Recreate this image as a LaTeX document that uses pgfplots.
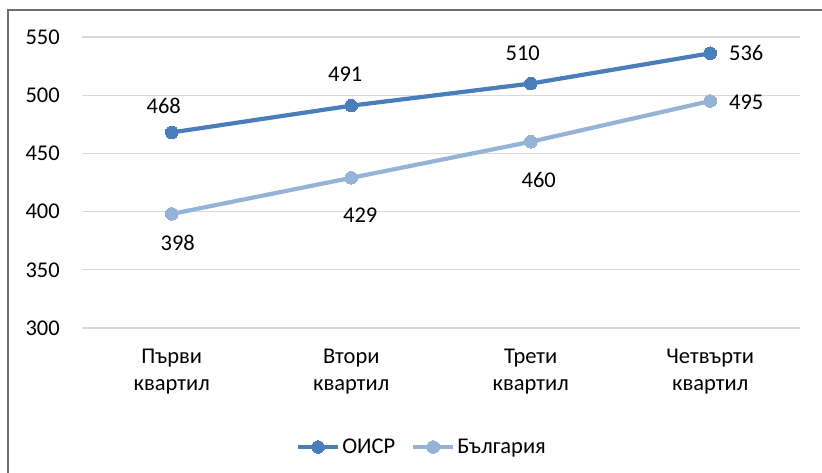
\documentclass[border=0pt]{standalone}
\usepackage{pgfplots}
\pgfplotsset{compat=1.18}
\usepackage{pgfplotstable}
\usepackage{fontspec}
\setmainfont{Carlito}

\definecolor{oecd}{RGB}{74,126,187}
\definecolor{bg}{RGB}{149,179,215}
\definecolor{gridgray}{RGB}{217,217,217}
\definecolor{framegray}{RGB}{110,110,110}

% quartile, score, label offsets (dx, dy)
\pgfplotstableread{
x y dx dy
0 468 -8 27
1 491 -6 31
2 510 -8 30
3 536 36 0
}\oecdtable
\pgfplotstableread{
x y dx dy
0 398 6 -29
1 429 9 -37
2 460 8 -38
3 495 36 -1
}\bgtable

\newcommand{\lblfont}{\fontsize{22.5}{27}\selectfont}

\begin{document}
\begin{tikzpicture}[x=1pt,y=1pt]
\path[use as bounding box] (0,0) rectangle (822,473);
\draw[framegray, line width=1.2pt] (8,0) -- (8,463) -- (822,463);
\begin{axis}[
  at={(82pt,145pt)}, anchor=south west,
  scale only axis, width=718pt, height=291pt,
  xmin=-0.5, xmax=3.5, ymin=300, ymax=550,
  xtick={0,1,2,3},
  xticklabels={{Първи\\квартил},{Втори\\квартил},{Трети\\квартил},{Четвърти\\квартил}},
  ytick={300,350,...,550},
  axis line style={draw=none},
  major tick length=0pt,
  ymajorgrids, grid style={gridgray, line width=1.3pt},
  tick label style={font=\lblfont},
  xticklabel style={align=center, inner sep=0pt, yshift=-21pt},
  yticklabel style={anchor=east, inner sep=0pt, xshift=-22pt},
  /pgf/number format/assume math mode=true,
  clip=false,
  legend style={draw=none, font=\lblfont, at={(0.4735,-0.409)}, anchor=center,
    legend columns=2,
    /tikz/every odd column/.append style={column sep=0pt},
    /tikz/every even column/.append style={column sep=14pt}},
  legend cell align=left,
  legend image code/.code={
    \draw[mark repeat=2, mark phase=2, #1] plot coordinates {(0pt,0pt) (20pt,0pt) (40pt,0pt)};},
  nodes near coords,
  visualization depends on={\thisrow{dx}\as\ldx},
  visualization depends on={\thisrow{dy}\as\ldy},
  every node near coord/.append style={font=\lblfont, text=black, anchor=center,
    xshift=\ldx pt, yshift=\ldy pt},
]
\addplot[oecd, line width=4.2pt, mark=*, mark size=6.3pt, mark options={fill=oecd, draw=oecd, line width=0pt}]
  table[x=x, y=y] {\oecdtable};
\addlegendentry{ОИСР}
\addplot[bg, line width=4.2pt, mark=*, mark size=6.3pt, mark options={fill=bg, draw=bg, line width=0pt}]
  table[x=x, y=y] {\bgtable};
\addlegendentry{България}
\end{axis}
\end{tikzpicture}
\end{document}
